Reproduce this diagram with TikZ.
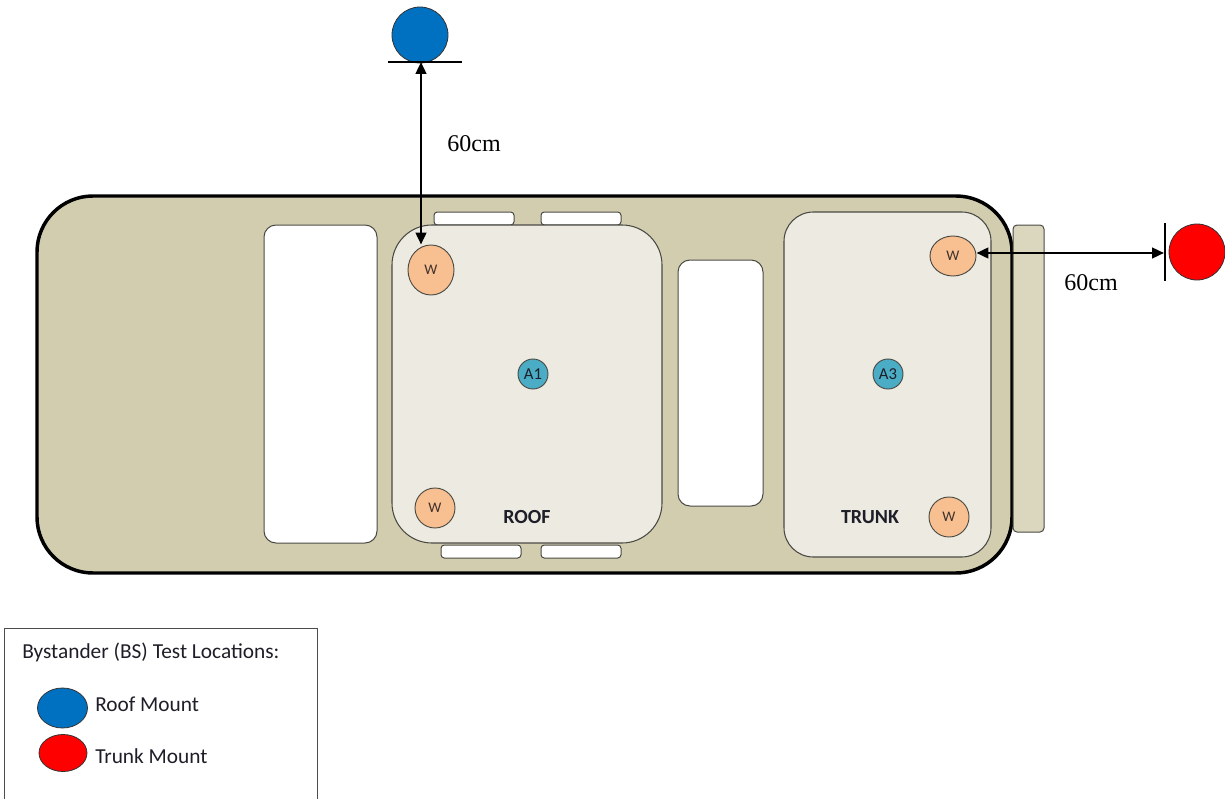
\documentclass[tikz,border=0pt]{standalone}
\usepackage{fontspec}
\setmainfont{Liberation Serif}
\newfontfamily\calfont{Carlito}
\usetikzlibrary{arrows.meta,shapes.geometric}
\definecolor{bodyc}{HTML}{D3CDB0}
\definecolor{panelc}{HTML}{EDEBE1}
\definecolor{bumperc}{HTML}{DBD6BE}
\definecolor{edgec}{HTML}{4A4A44}
\definecolor{wfill}{HTML}{F8BF90}
\definecolor{afill}{HTML}{4BACC6}
\definecolor{bsblue}{HTML}{0070C0}
\definecolor{bsred}{HTML}{FF0000}
\definecolor{txtc}{HTML}{1E1E28}
\tikzset{
  carbody/.style={fill=bodyc, draw=black, line width=2.6pt, rounded corners=42pt},
  panel/.style={fill=panelc, draw=edgec, line width=0.8pt},
  winbox/.style={fill=white, draw=edgec, line width=0.75pt, rounded corners=9pt},
  railbox/.style={fill=white, draw=edgec, line width=0.75pt, rounded corners=2.5pt},
  wspot/.style={ellipse, fill=wfill, draw=edgec, line width=0.7pt, inner sep=0pt, font=\calfont\fontsize{11}{12}\selectfont, text=txtc!80!brown},
  aspot/.style={circle, fill=afill, draw=edgec, line width=0.7pt, inner sep=0pt, minimum size=22.5pt, font=\calfont\fontsize{12.5}{13}\selectfont, text=txtc},
  bsdot/.style={circle, draw=black!80, line width=0.6pt, inner sep=0pt, minimum size=42pt},
  legdot/.style={ellipse, draw=black!80, line width=0.6pt, inner sep=0pt},
  dimarrow/.style={{Triangle[length=9pt,width=8pt]}-{Triangle[length=9pt,width=8pt]}, line width=1.8pt, black},
  dimlabel/.style={font=\fontsize{18}{20}\selectfont, text=black},
  zonelabel/.style={font=\calfont\bfseries\fontsize{15}{16}\selectfont, text=txtc},
  legtext/.style={font=\calfont\fontsize{16}{18}\selectfont, text=txtc, anchor=west, inner sep=0pt}
}
\begin{document}
\begin{tikzpicture}[x=0.75pt,y=-0.75pt]
\useasboundingbox (0,0) rectangle (1225,799);
% car body
\draw[carbody] (37,196) rectangle (1012,573);
% bumper
\draw[fill=bumperc, draw=edgec, line width=0.75pt, rounded corners=3pt] (1013,225) rectangle (1044,532);
% roof rails
\draw[railbox] (434,212) rectangle (514,225);
\draw[railbox] (541,212) rectangle (621,225);
\draw[railbox] (441,545) rectangle (521,558);
\draw[railbox] (541,545) rectangle (621,558);
% windows
\draw[winbox] (264,225) rectangle (377,543);
\draw[winbox] (678,260) rectangle (763,506);
% roof and trunk panels
\draw[panel, rounded corners=30pt] (392,225) rectangle (662,543);
\draw[panel, rounded corners=22pt] (784,212) rectangle (991,557);
% spots
\node[wspot, minimum width=34.5pt, minimum height=37.5pt] (w1) at (431,270) {W};
\node[wspot, minimum width=30pt, minimum height=30pt] (w2) at (435,508) {W};
\node[wspot, minimum width=34.5pt, minimum height=30pt] (w3) at (953,256) {W};
\node[wspot, minimum width=30pt, minimum height=30pt] (w4) at (949,517) {W};
\node[aspot] (a1) at (533,374) {A1};
\node[aspot] (a3) at (888,374) {A3};
\node[zonelabel] (roof) at (527,517) {ROOF};
\node[zonelabel] (trunk) at (870,517) {TRUNK};
% roof mount bystander
\node[bsdot, fill=bsblue] (bsroof) at (420,35) {};
\coordinate (roofbarL) at (388,62);
\coordinate (roofbarR) at (462,62);
\draw[line width=1.8pt] (roofbarL) -- (roofbarR);
\coordinate (roofbar) at (421,62);
\draw[dimarrow] (roofbar) -- (roofbar |- w1.north);
\node[dimlabel] (d1) at (474,144) {60cm};
% trunk mount bystander
\node[bsdot, fill=bsred] (bstrunk) at (1197,252) {};
\coordinate (trunkbarT) at (1165,223);
\coordinate (trunkbarB) at (1165,281);
\draw[line width=1.8pt] (trunkbarT) -- (trunkbarB);
\coordinate (trunkbar) at (1164,253);
\draw[dimarrow] (w3.east |- trunkbar) -- (trunkbar);
\node[dimlabel] (d2) at (1091,283) {60cm};
% legend
\draw[draw=black!70, line width=0.75pt] (4,805) -- (4,628) -- (317,628) -- (317,805);
\node[legtext] (legtitle) at (22,652) {Bystander (BS) Test Locations:};
\node[legdot, fill=bsblue, minimum width=37.5pt, minimum height=30pt] (legblue) at (62.5,708) {};
\node[legdot, fill=bsred, minimum width=36pt, minimum height=27.75pt] (legred) at (63,753) {};
\node[legtext] (legroof) at (95,704) {Roof Mount};
\node[legtext] (legtrunk) at (95,756) {Trunk Mount};
\end{tikzpicture}
\end{document}
